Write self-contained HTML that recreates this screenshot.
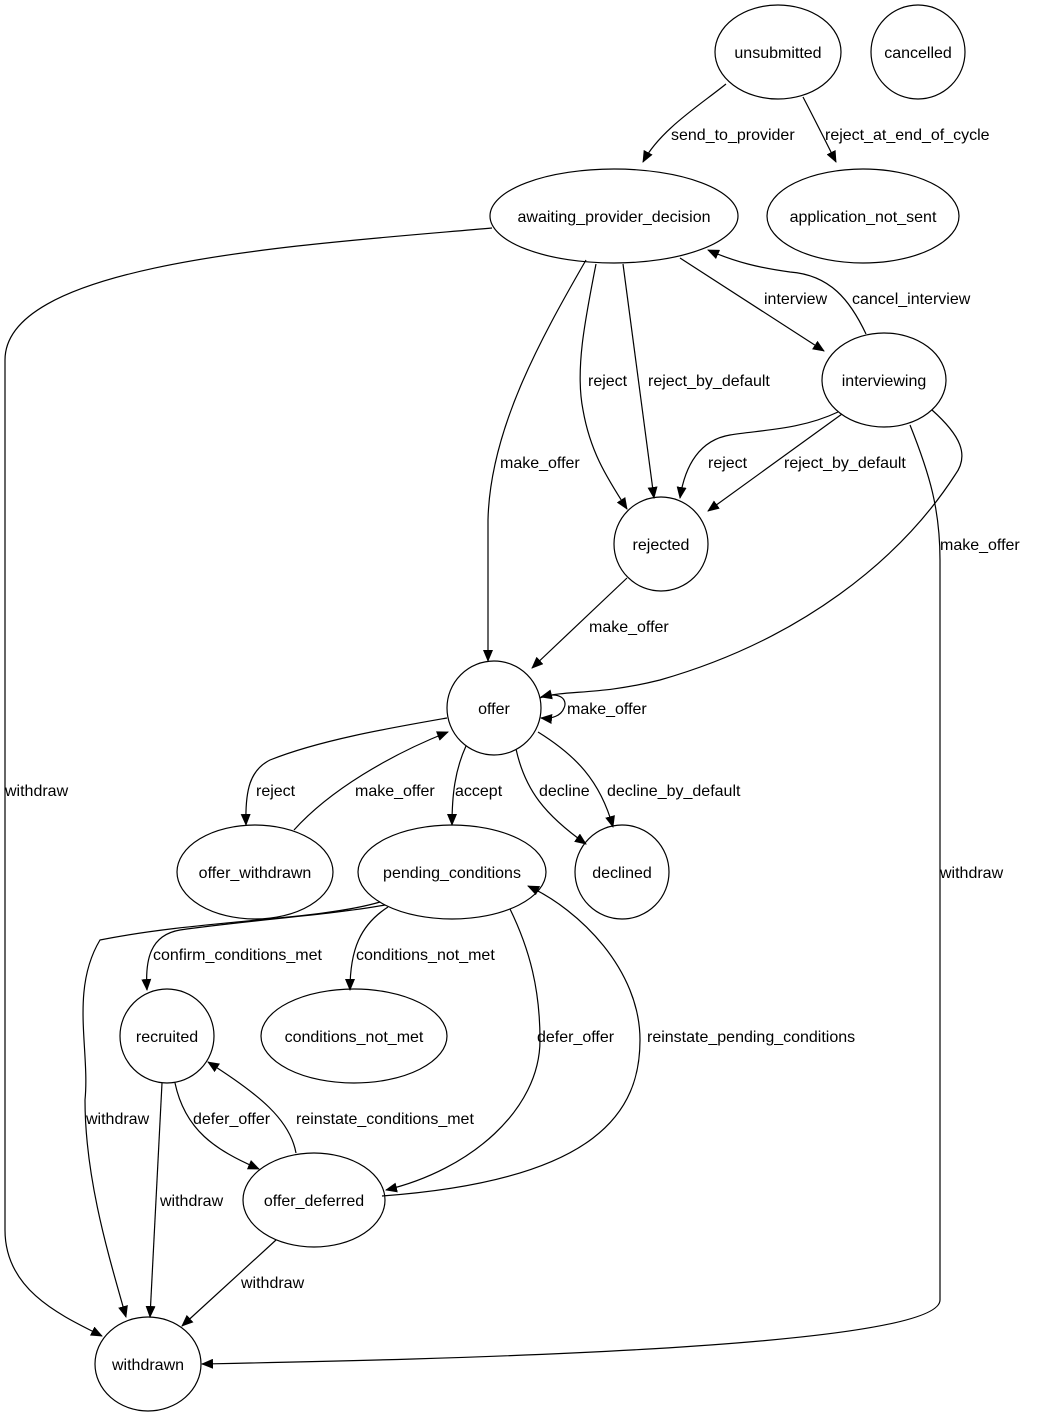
<!DOCTYPE html>
<html><head><meta charset="utf-8"><style>
html,body{margin:0;padding:0;background:#fff;}
svg{display:block}
text{font-family:"Liberation Sans",Arial,sans-serif;font-size:16px;fill:#000}
.n{fill:none;stroke:#000;stroke-width:1.2}
.e{fill:none;stroke:#000;stroke-width:1.2;marker-end:url(#a)}
</style></head><body>
<svg width="1039" height="1419" viewBox="0 0 1039 1419">
<defs><marker id="a" markerWidth="12" markerHeight="10" refX="11" refY="5" orient="auto" markerUnits="userSpaceOnUse"><path d="M0,0 L12,5 L0,10 z" fill="#000"/></marker></defs>
<!-- nodes -->
<ellipse class="n" cx="778" cy="52" rx="63" ry="47"/><text x="778" y="58" text-anchor="middle">unsubmitted</text>
<ellipse class="n" cx="918" cy="52" rx="47" ry="47"/><text x="918" y="58" text-anchor="middle">cancelled</text>
<ellipse class="n" cx="614" cy="216" rx="124" ry="47"/><text x="614" y="222" text-anchor="middle">awaiting_provider_decision</text>
<ellipse class="n" cx="863" cy="216" rx="96" ry="47"/><text x="863" y="222" text-anchor="middle">application_not_sent</text>
<ellipse class="n" cx="884" cy="380" rx="62" ry="47"/><text x="884" y="386" text-anchor="middle">interviewing</text>
<ellipse class="n" cx="661" cy="544" rx="47" ry="47"/><text x="661" y="550" text-anchor="middle">rejected</text>
<ellipse class="n" cx="494" cy="708" rx="47" ry="47"/><text x="494" y="714" text-anchor="middle">offer</text>
<ellipse class="n" cx="255" cy="872" rx="78" ry="47"/><text x="255" y="878" text-anchor="middle">offer_withdrawn</text>
<ellipse class="n" cx="452" cy="872" rx="94" ry="47"/><text x="452" y="878" text-anchor="middle">pending_conditions</text>
<ellipse class="n" cx="622" cy="872" rx="47" ry="47"/><text x="622" y="878" text-anchor="middle">declined</text>
<ellipse class="n" cx="167" cy="1036" rx="47" ry="47"/><text x="167" y="1042" text-anchor="middle">recruited</text>
<ellipse class="n" cx="354" cy="1036" rx="93" ry="47"/><text x="354" y="1042" text-anchor="middle">conditions_not_met</text>
<ellipse class="n" cx="314" cy="1200" rx="71" ry="47"/><text x="314" y="1206" text-anchor="middle">offer_deferred</text>
<ellipse class="n" cx="148" cy="1364" rx="53" ry="47"/><text x="148" y="1370" text-anchor="middle">withdrawn</text>
<!-- edges -->
<path class="e" d="M726,84 C700,105 660,130 643,162"/><text x="671" y="140">send_to_provider</text>
<path class="e" d="M803,97 C815,120 825,140 836,162"/><text x="825" y="140">reject_at_end_of_cycle</text>
<path class="e" d="M492,228 C300,245 5,262 5,360 L5,1230 C5,1290 60,1315 102,1336"/><text x="5" y="796">withdraw</text>
<path class="e" d="M680,258 L824,351"/><text x="764" y="304">interview</text>
<path class="e" d="M866,334 C850,300 830,275 790,272 C760,268 735,262 708,250"/><text x="852" y="304">cancel_interview</text>
<path class="e" d="M596,264 C585,320 575,370 583,410 C590,450 605,475 627,509"/><text x="588" y="386">reject</text>
<path class="e" d="M623,264 L654,498"/><text x="648" y="386">reject_by_default</text>
<path class="e" d="M586,260 C540,340 490,430 488,520 L488,661"/><text x="500" y="468">make_offer</text>
<path class="e" d="M838,412 C800,430 760,430 730,435 C700,440 685,465 680,498"/><text x="708" y="468">reject</text>
<path class="e" d="M842,414 L708,511"/><text x="784" y="468">reject_by_default</text>
<path class="e" d="M932,410 C960,435 970,455 955,475 C900,560 800,640 660,680 C600,695 570,690 541,697"/><text x="940" y="550">make_offer</text>
<path class="e" d="M910,425 C930,475 940,510 940,560 L940,1300 C940,1350 400,1360 202,1364"/><text x="940" y="878">withdraw</text>
<path class="e" d="M627,578 L532,668"/><text x="589" y="632">make_offer</text>
<path class="e" d="M540,698 C560,690 568,700 564,708 C561,716 552,719 541,718"/><text x="567" y="714">make_offer</text>
<path class="e" d="M447,718 C390,728 320,740 270,760 C250,770 245,790 246,825"/><text x="256" y="796">reject</text>
<path class="e" d="M294,830 C330,790 390,755 448,732"/><text x="355" y="796">make_offer</text>
<path class="e" d="M466,746 C455,770 452,795 452,825"/><text x="455" y="796">accept</text>
<path class="e" d="M516,749 C525,790 545,815 586,844"/><text x="539" y="796">decline</text>
<path class="e" d="M538,732 C575,755 600,780 613,827"/><text x="607" y="796">decline_by_default</text>
<path class="e" d="M385,905 C330,915 250,920 180,930 C150,935 145,960 147,990"/><text x="153" y="960">confirm_conditions_met</text>
<path class="e" d="M380,902 C320,920 200,920 100,940 C70,990 90,1050 85,1100 C85,1180 110,1260 126,1317"/><text x="86" y="1124">withdraw</text>
<path class="e" d="M388,907 C360,925 350,950 350,990"/><text x="356" y="960">conditions_not_met</text>
<path class="e" d="M510,909 C530,950 540,990 540,1040 C540,1110 470,1170 386,1190"/><text x="537" y="1042">defer_offer</text>
<path class="e" d="M382,1196 C600,1180 640,1110 640,1040 C640,970 580,910 528,886"/><text x="647" y="1042">reinstate_pending_conditions</text>
<path class="e" d="M175,1083 C185,1130 215,1150 259,1169"/><text x="193" y="1124">defer_offer</text>
<path class="e" d="M296,1153 C290,1120 260,1095 208,1062"/><text x="296" y="1124">reinstate_conditions_met</text>
<path class="e" d="M162,1083 L150,1317"/><text x="160" y="1206">withdraw</text>
<path class="e" d="M276,1240 L182,1326"/><text x="241" y="1288">withdraw</text>
</svg>
</body></html>
